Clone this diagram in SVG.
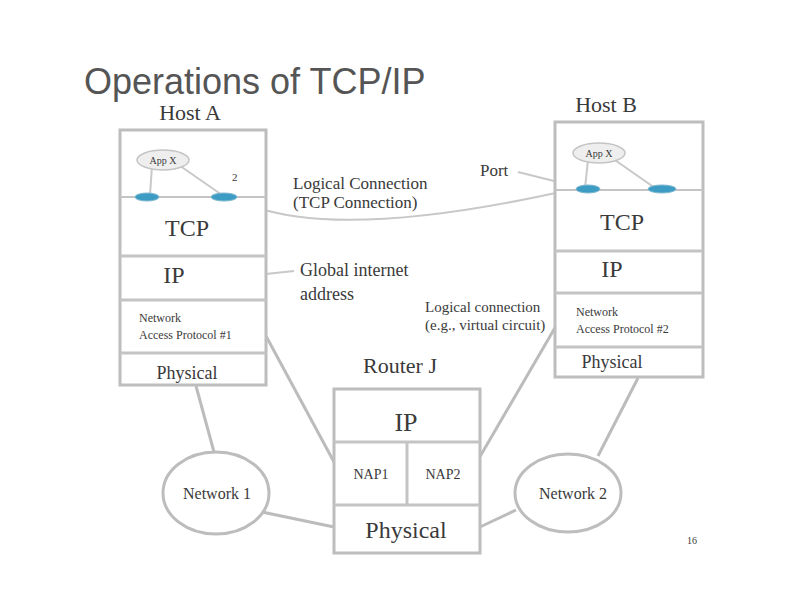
<svg xmlns="http://www.w3.org/2000/svg" width="792" height="612" viewBox="0 0 792 612">
<style>
.box{fill:#fff;stroke:#bdbdbd;stroke-width:3}
.sep{stroke:#c4c4c4;stroke-width:3}
.thin{stroke:#c8c8c8;stroke-width:2;fill:none}
.conn{stroke:#bcbcbc;stroke-width:3;fill:none}
.t{font-family:"Liberation Serif",serif;fill:#3a3a3a}
.title{font-family:"Liberation Sans",Arial,sans-serif;fill:#555;font-size:36px}
.port{fill:#3c9cc4;stroke:#7fb8d0;stroke-width:1}
.app{fill:#eee;stroke:#c4c4c4;stroke-width:1.5}
</style>
<rect width="792" height="612" fill="#fff"/>
<text class="title" x="84" y="94">Operations of TCP/IP</text>

<g id="connectors">
  <path class="thin" d="M238,200 Q330,245 578,188"/>
  <line class="thin" x1="518" y1="172" x2="578" y2="187"/>
  <line class="thin" x1="246" y1="276" x2="294" y2="271"/>
  <line class="conn" x1="196" y1="386" x2="214" y2="452"/>
  <line class="conn" x1="266" y1="336" x2="334" y2="462"/>
  <line class="conn" x1="262" y1="512" x2="334" y2="527"/>
  <line class="conn" x1="516" y1="510" x2="480" y2="527"/>
  <line class="conn" x1="638" y1="378" x2="598" y2="456"/>
  <line class="conn" x1="556" y1="326" x2="478" y2="460"/>
</g>

<g id="labels">
  <text class="t" x="293" y="189" font-size="17">Logical Connection</text>
  <text class="t" x="293" y="208" font-size="17">(TCP Connection)</text>
  <text class="t" x="480" y="176" font-size="17">Port</text>
  <text class="t" x="300" y="276" font-size="18">Global internet</text>
  <text class="t" x="300" y="300" font-size="18">address</text>
  <text class="t" x="425" y="312" font-size="15">Logical connection</text>
  <text class="t" x="425" y="330" font-size="15">(e.g., virtual circuit)</text>
  <text class="t" x="692" y="544" font-size="10" text-anchor="middle">16</text>
</g>

<g id="hostA">
  <text class="t" x="190" y="120" font-size="22" text-anchor="middle">Host A</text>
  <rect class="box" x="120" y="130" width="146" height="255"/>
  <line class="sep" x1="120" y1="197" x2="266" y2="197" style="stroke-width:2"/>
  <line class="sep" x1="120" y1="256" x2="266" y2="256"/>
  <line class="sep" x1="120" y1="300" x2="266" y2="300"/>
  <line class="sep" x1="120" y1="353" x2="266" y2="353"/>
  <line class="thin" x1="152" y1="166" x2="150" y2="195"/>
  <line class="thin" x1="176" y1="163" x2="222" y2="195"/>
  <ellipse class="app" cx="163" cy="160" rx="26" ry="10"/>
  <text class="t" x="163" y="164" font-size="10" text-anchor="middle">App X</text>
  <ellipse class="port" cx="147" cy="197" rx="12" ry="4"/>
  <ellipse class="port" cx="224" cy="197" rx="13" ry="4"/>
  <text class="t" x="232" y="181" font-size="11">2</text>
  <text class="t" x="187" y="236" font-size="24" text-anchor="middle">TCP</text>
  <text class="t" x="174" y="283" font-size="24" text-anchor="middle">IP</text>
  <text class="t" x="139" y="322" font-size="12">Network</text>
  <text class="t" x="139" y="339" font-size="12">Access Protocol #1</text>
  <text class="t" x="187" y="379" font-size="18" text-anchor="middle">Physical</text>
</g>

<g id="hostB">
  <text class="t" x="606" y="112" font-size="22" text-anchor="middle">Host B</text>
  <rect class="box" x="555" y="122" width="148" height="255"/>
  <line class="sep" x1="555" y1="190" x2="703" y2="190" style="stroke-width:2"/>
  <line class="sep" x1="555" y1="251" x2="703" y2="251"/>
  <line class="sep" x1="555" y1="293" x2="703" y2="293"/>
  <line class="sep" x1="555" y1="347" x2="703" y2="347"/>
  <line class="thin" x1="588" y1="160" x2="585" y2="188"/>
  <line class="thin" x1="612" y1="158" x2="655" y2="188"/>
  <ellipse class="app" cx="599" cy="153" rx="26" ry="10"/>
  <text class="t" x="599" y="157" font-size="10" text-anchor="middle">App X</text>
  <ellipse class="port" cx="588" cy="189" rx="12" ry="4"/>
  <ellipse class="port" cx="662" cy="189" rx="14" ry="4"/>
  <text class="t" x="622" y="230" font-size="24" text-anchor="middle">TCP</text>
  <text class="t" x="612" y="277" font-size="24" text-anchor="middle">IP</text>
  <text class="t" x="576" y="316" font-size="12">Network</text>
  <text class="t" x="576" y="333" font-size="12">Access Protocol #2</text>
  <text class="t" x="612" y="368" font-size="18" text-anchor="middle">Physical</text>
</g>

<g id="routerJ">
  <text class="t" x="400" y="373" font-size="22" text-anchor="middle">Router J</text>
  <rect class="box" x="334" y="389" width="146" height="164"/>
  <line class="sep" x1="334" y1="442" x2="480" y2="442"/>
  <line class="sep" x1="334" y1="505" x2="480" y2="505"/>
  <line class="sep" x1="407" y1="442" x2="407" y2="505"/>
  <text class="t" x="406" y="431" font-size="26" text-anchor="middle">IP</text>
  <text class="t" x="371" y="479" font-size="14" text-anchor="middle">NAP1</text>
  <text class="t" x="443" y="479" font-size="14" text-anchor="middle">NAP2</text>
  <text class="t" x="406" y="538" font-size="24" text-anchor="middle">Physical</text>
</g>

<g id="network1">
  <ellipse class="box" cx="216" cy="493" rx="53" ry="41"/>
  <text class="t" x="217" y="499" font-size="16" text-anchor="middle">Network 1</text>
</g>
<g id="network2">
  <ellipse class="box" cx="568" cy="493" rx="53" ry="39"/>
  <text class="t" x="573" y="499" font-size="16" text-anchor="middle">Network 2</text>
</g>
</svg>
